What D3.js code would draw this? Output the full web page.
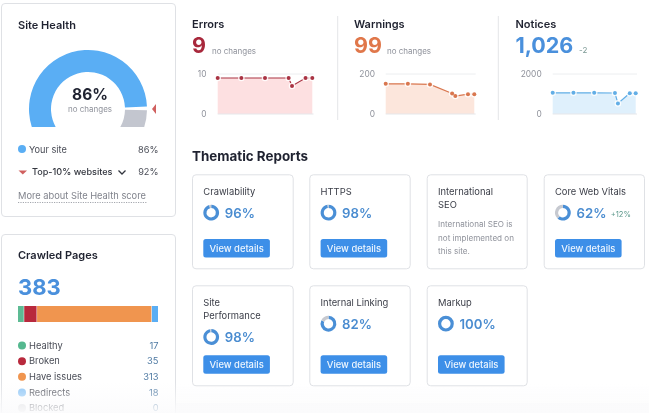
<!DOCTYPE html>
<html><head><meta charset="utf-8">
<script src="https://cdn.jsdelivr.net/npm/d3@7/dist/d3.min.js"></script>
<style>
html,body{margin:0;padding:0;background:#fff;overflow:hidden}
svg{display:block;filter:blur(.45px)}
text{font-family:Inter,"Noto Sans",sans-serif}
</style></head><body>
<svg id="c" width="649" height="413"></svg>
<script>
// ---- data ----
const siteHealth = 86, top10Health = 92;
const pageCategories = ["Healthy","Broken","Have issues","Redirects","Blocked"];
const pageValues = [17,35,313,18,0];
const pageColors = ["#55b88f","#b8293d","#f0954f","#8cc6f7","#d9dadd"];
const trendDays = [0,7,14,21,22,26,28];
const errorsValues = [9,9,9,9,7,9,9];
const warningsValues = [151,151,148,103,90,99,99];
const noticesValues = [1060,1060,1060,1050,530,1040,1040];
const reportNames = [["Crawlability"],["HTTPS"],["International","SEO"],["Core Web Vitals"],["Site","Performance"],["Internal Linking"],["Markup"]];
const reportScores = [96,98,null,62,98,82,100];
const reportDeltas = ["","","","+12%","","",""];

const svg = d3.select("#c");
const DARK="#1f2230", GRAY="#8f929b", MID="#4a4d57", BORDER="#dfe1e5";
function T(x,y,s,size,fill,weight,anchor){
  return svg.append("text").attr("x",x).attr("y",y).text(s).attr("font-size",size)
    .attr("fill",fill).attr("font-weight",weight||400).attr("text-anchor",anchor||"start");
}
function card(x0,y0,x1,y1){
  svg.append("rect").attr("x",x0+.5).attr("y",y0+.5).attr("width",x1-x0).attr("height",y1-y0)
    .attr("rx",3.5).attr("fill","#fff").attr("stroke",BORDER).attr("stroke-width",1);
}

// ---- Site Health ----
card(1,3,175,216);
T(18,29,"Site Health",11,DARK,600);
const gaugeAngle = d3.scaleLinear().domain([0,siteHealth,top10Health,100]).range([-120,87.5,90,120]);
const rad = d=>gaugeAngle(d)*Math.PI/180;
const gaugeArc = d3.arc().innerRadius(37).outerRadius(59);
const defs = svg.append("defs");
defs.append("clipPath").attr("id","gc").append("rect").attr("x",20).attr("y",40).attr("width",140).attr("height",87);
const g = svg.append("g").attr("clip-path","url(#gc)").append("g").attr("transform","translate(88,109)");
g.append("path").attr("d",gaugeArc({startAngle:rad(0),endAngle:rad(siteHealth)})).attr("fill","#5aaef4");
g.append("path").attr("d",gaugeArc({startAngle:rad(top10Health)+.02,endAngle:rad(100)})).attr("fill","#c3c6cf");
const mk = d3.pointRadial(rad(top10Health),64);
svg.append("path").attr("transform",`translate(${88+mk[0]},${109+mk[1]})`)
  .attr("d","M0,0L4,-5V5Z").attr("fill","#d0605f");
T(90,99.5,siteHealth+"%",15.5,DARK,700,"middle");
T(90,111.5,"no changes",8,GRAY,400,"middle");
svg.append("circle").attr("cx",22).attr("cy",149).attr("r",4).attr("fill","#5aaef4");
T(29,152.5,"Your site",9.2,MID,400);
T(158.5,152.5,siteHealth+"%",9.2,MID,400,"end");
svg.append("path").attr("d","M18.5,170.5H27L22.8,174.5Z").attr("fill","#d0605f");
T(32,175,"Top-10% websites",9.1,"#33363f",500);
svg.append("path").attr("d","M118.5,170.5L122,174L125.5,170.5").attr("fill","none").attr("stroke","#33363f").attr("stroke-width",1.3);
T(158.5,175,top10Health+"%",9.2,MID,400,"end");
T(18,199,"More about Site Health score",9.3,"#80838c",400);
svg.append("line").attr("x1",18).attr("x2",147).attr("y1",202.5).attr("y2",202.5)
  .attr("stroke","#a4a7ae").attr("stroke-dasharray","1.2 1.2");

// ---- Crawled pages ----
svg.append("rect").attr("x",0).attr("y",403).attr("width",649).attr("height",10).attr("fill","#fafafb");
card(1,234,175,440);
T(18,259,"Crawled Pages",11,DARK,600);
const total = d3.sum(pageValues);
T(18,295,d3.format("d")(total),22,"#4a90dc",700);
const bx = d3.scaleLinear().domain([0,total]).range([18,158.5]);
let acc=0;
pageValues.forEach((v,i)=>{
  if(v>0) svg.append("rect").attr("x",bx(acc)).attr("y",306).attr("width",Math.max(0,bx(acc+v)-bx(acc)-.5)).attr("height",16)
    .attr("fill",i===3?"#5aaef4":i===0?"#5dbb94":pageColors[i]);
  acc+=v;
});
const rowY = d3.scalePoint().domain(pageCategories).range([345.5,408]);
pageCategories.forEach((c,i)=>{
  const y=rowY(c);
  svg.append("circle").attr("cx",22).attr("cy",y).attr("r",4).attr("fill",pageColors[i]);
  T(29,y+3.2,c,9.3,MID,400);
  T(158.5,y+3.2,pageValues[i],9.3,"#4f7aa3",400,"end");
});
const fade = defs.append("linearGradient").attr("id","fd").attr("x1",0).attr("x2",0).attr("y1",0).attr("y2",1);
fade.append("stop").attr("offset",0).attr("stop-color","#fbfbfc").attr("stop-opacity",0);
fade.append("stop").attr("offset",1).attr("stop-color","#fbfbfc").attr("stop-opacity",.92);
svg.append("rect").attr("x",0).attr("y",382).attr("width",649).attr("height",31).attr("fill","url(#fd)");

// ---- Trends ----
function trend(o){
  T(o.tx,28,o.title,11,DARK,600);
  T(o.tx,53,o.big,21.5,o.color,700);
  T(o.nx,o.nSmall?53:54,o.note,8,o.nSmall?"#7d9a96":GRAY,400);
  const x=d3.scaleLinear().domain([0,28]).range([o.x0,o.x1]);
  const y=d3.scaleLinear().domain([0,o.max]).range([114,74]);
  const pl=svg.append("g");
  const ax=d3.axisLeft(y).tickValues([0,o.max]).tickSize(0).tickPadding(0).tickFormat(d3.format("d"));
  const ag=pl.append("g").attr("transform",`translate(${o.tickX},0)`).call(ax);
  ag.select(".domain").remove();
  ag.selectAll("text").attr("font-size",8.4).attr("fill",GRAY).attr("font-family","Inter");
  pl.append("line").attr("x1",o.x0).attr("x2",o.gx).attr("y1",y(o.max)).attr("y2",y(o.max)).attr("stroke","#eceef0");
  const pts=trendDays.map((d,i)=>[d,o.vals[i]]);
  pl.append("path").attr("d",d3.area().x(d=>x(d[0])).y0(y(0)).y1(d=>y(d[1]))(pts)).attr("fill",o.fill);
  pl.append("line").attr("x1",o.x0).attr("x2",o.gx).attr("y1",y(0)).attr("y2",y(0)).attr("stroke","#e6e7ea");
  pl.append("path").attr("d",d3.line().x(d=>x(d[0])).y(d=>y(d[1]))(pts)).attr("fill","none").attr("stroke",o.line).attr("stroke-width",1.2);
  pl.selectAll("circle.p").data(pts).join("circle").attr("cx",d=>x(d[0])).attr("cy",d=>y(d[1])).attr("r",3.3).attr("fill","#fff").attr("fill-opacity",.85);
  pl.selectAll("circle.q").data(pts).join("circle").attr("cx",d=>x(d[0])).attr("cy",d=>y(d[1])).attr("r",2).attr("fill",o.line);
}
trend({title:"Errors",big:"9",note:"no changes",tx:192,nx:212,tickX:206.5,x0:217.7,x1:312.3,gx:313.5,max:10,vals:errorsValues,color:"#a8283c",line:"#a93343",fill:"#fde0e1"});
trend({title:"Warnings",big:"99",note:"no changes",tx:354,nx:387,tickX:375,x0:385.7,x1:474.3,gx:475.7,max:200,vals:warningsValues,color:"#e0774a",line:"#d9774f",fill:"#fce6dc"});
trend({title:"Notices",big:"1,026",note:"-2",nSmall:true,tx:515.5,nx:579,tickX:541.7,x0:552.7,x1:635.7,gx:637,max:2000,vals:noticesValues,color:"#4a90dc",line:"#62aee6",fill:"#dff0fc"});
[337.7,498.3].forEach(x=>svg.append("line").attr("x1",x).attr("x2",x).attr("y1",16).attr("y2",120).attr("stroke","#e4e5e8"));

// ---- Thematic reports ----
T(192,160.5,"Thematic Reports",13.4,DARK,700);
const colX=[192,309.3,426.7,543.7], colW=[100.7,100.4,100,100.3];
const ringArc=d3.arc().innerRadius(4.7).outerRadius(7.9);
const pie=d3.pie().sort(null);
reportNames.forEach((names,i)=>{
  const c=i<4?i:i-4, row=i<4?0:1;
  const x=colX[c], y0=row?285.3:174.3, y1=row?385.3:268.3;
  card(x,y0,x+colW[c],y1);
  const tx=x+11.3, base=y0+20.8;
  names.forEach((n,k)=>T(tx,base+k*13.3,n,9.4,"#3a3d47",400));
  const score=reportScores[i];
  const shift=(names.length-1)*13.3;
  if(score===null){
    ["International SEO is","not implemented on","this site."].forEach((s,k)=>T(tx,227.3+k*13.4,s,8.1,GRAY,400));
    return;
  }
  const cy=y0+38.4+shift, cx=tx+7.9;
  const r=svg.append("g").attr("transform",`translate(${cx},${cy})`);
  r.selectAll("path").data(pie([score,100-score])).join("path").attr("d",ringArc)
    .attr("fill",(d,k)=>k?"#c6c9d0":"#4a8fd6");
  T(tx+21.5,cy+4.8,score+"%",13.2,"#4a8cd0",600);
  if(reportDeltas[i]) T(tx+55.7,cy+4.4,reportDeltas[i],7.6,"#5f9a8e",400);
  const by=row?355.3:239;
  svg.append("rect").attr("x",tx).attr("y",by).attr("width",66.6).attr("height",18.4).attr("rx",2.5).attr("fill","#3d8fe8");
  T(tx+33.3,by+12.6,"View details",9.4,"#eef6fe",500,"middle");
});
</script>
</body></html>
